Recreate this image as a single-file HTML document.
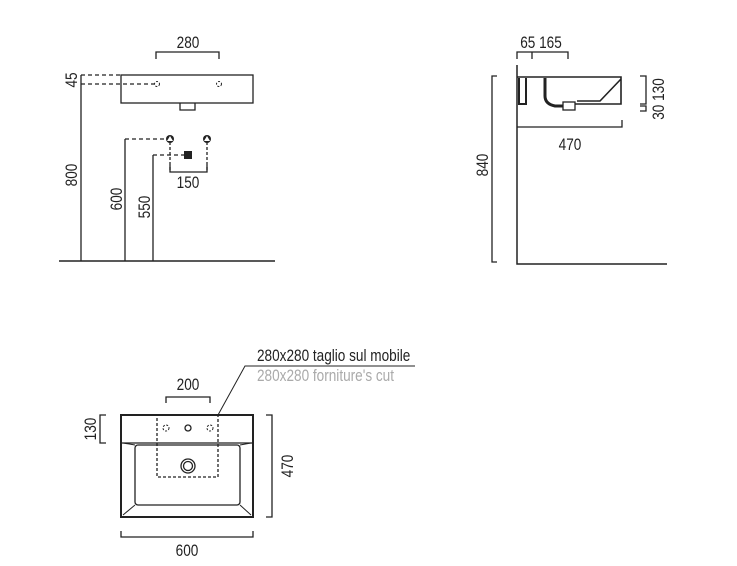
<!DOCTYPE html>
<html><head><meta charset="utf-8"><style>
html,body{margin:0;padding:0;background:#fff;width:737px;height:566px;overflow:hidden}
svg{display:block}
text{font-family:"Liberation Sans",sans-serif;font-size:17px;fill:#222}
</style></head><body>
<svg width="737" height="566" viewBox="0 0 737 566" xmlns="http://www.w3.org/2000/svg">
<g stroke="#222" stroke-width="1.3" fill="none">
<path d="M156 59V52H219V59"/>
<rect x="121" y="75" width="132" height="28"/>
<path d="M180 103V110H195V103"/>
<path d="M81 75V261"/>
<path d="M59 261H275" stroke-width="1.5"/>
<path d="M81 75H120M81 84H155" stroke-dasharray="4,3"/>
<circle cx="157" cy="84" r="2.5" stroke-dasharray="2,1.5" stroke-width="1"/>
<circle cx="219" cy="84" r="2.5" stroke-dasharray="2,1.5" stroke-width="1"/>
<path d="M125 261V139M153 261V155"/>
<path d="M125 139H167M153 155H185" stroke-dasharray="4,3"/>
<path d="M170 142V170M207 142V170" stroke-dasharray="3,2"/>
<path d="M170 165V172H207V165"/>
<path d="M517 65V264H667" stroke-width="1.5"/>
<path d="M497 76H492V262H497"/>
<path d="M517 59V52H568V59M532 52V59"/>
<path d="M517 127H622V120"/>
<path d="M640 76H646V104H640M640 106H646V111H640"/>
<path d="M517 77H621V104H575M621 79L600 101H577" stroke-width="1.6"/>
<path d="M519 78V104H526V78" stroke-width="2"/>
<path d="M545 78V96Q545 104 555 106H563" stroke-width="3"/>
<rect x="563" y="102" width="12" height="8"/>
<path d="M166 403V397H210V403"/>
<rect x="121" y="415" width="132" height="102" stroke-width="2"/>
<path d="M121 443H253"/>
<rect x="135" y="445" width="105" height="60" rx="3"/>
<path d="M135 505L123 515M240 505L251 515M135 445L123 443M240 445L251 443" stroke-width="1"/>
<rect x="157" y="415" width="61" height="62" stroke-dasharray="3,2"/>
<circle cx="166" cy="428" r="3" stroke-dasharray="2,1.5" stroke-width="1"/>
<circle cx="188" cy="428" r="3"/>
<circle cx="210" cy="428" r="3" stroke-dasharray="2,1.5" stroke-width="1"/>
<circle cx="188" cy="466" r="7"/>
<circle cx="188" cy="466" r="4.5"/>
<path d="M106 415H100V443H106"/>
<path d="M266 415H272V517H266"/>
<path d="M121 531V537H253V531"/>
<path d="M218 415L245 366H415" stroke-width="1"/>
</g>
<g fill="#222" stroke="none">
<circle cx="170" cy="139" r="4"/>
<circle cx="207" cy="139" r="4"/>
<rect x="184" y="151" width="8" height="8"/>
</g>
<g fill="#fff"><path d="M170 136L167 141H173Z"/><path d="M207 136L204 141H210Z"/></g>
<g>
<text transform="translate(188,48) scale(0.8,1)" text-anchor="middle">280</text>
<text transform="translate(188,188) scale(0.8,1)" text-anchor="middle">150</text>
<text transform="translate(77,80) rotate(-90) scale(0.8,1)" text-anchor="middle">45</text>
<text transform="translate(77,175) rotate(-90) scale(0.8,1)" text-anchor="middle">800</text>
<text transform="translate(122,199) rotate(-90) scale(0.8,1)" text-anchor="middle">600</text>
<text transform="translate(150,207) rotate(-90) scale(0.8,1)" text-anchor="middle">550</text>
<text transform="translate(541,48) scale(0.8,1)" text-anchor="middle">65 165</text>
<text transform="translate(570,150) scale(0.8,1)" text-anchor="middle">470</text>
<text transform="translate(488,165) rotate(-90) scale(0.8,1)" text-anchor="middle">840</text>
<text transform="translate(664,99) rotate(-90) scale(0.8,1)" text-anchor="middle">30 130</text>
<text transform="translate(257,361) scale(0.8,1)" font-size="18.5">280x280 taglio sul mobile</text>
<text transform="translate(257,381) scale(0.8,1)" font-size="18.5" style="fill:#aaa">280x280 forniture's cut</text>
<text transform="translate(188,390) scale(0.8,1)" text-anchor="middle">200</text>
<text transform="translate(96,429) rotate(-90) scale(0.8,1)" text-anchor="middle">130</text>
<text transform="translate(293,466) rotate(-90) scale(0.8,1)" text-anchor="middle">470</text>
<text transform="translate(187,556) scale(0.8,1)" text-anchor="middle">600</text>
</g>
</svg>
</body></html>
